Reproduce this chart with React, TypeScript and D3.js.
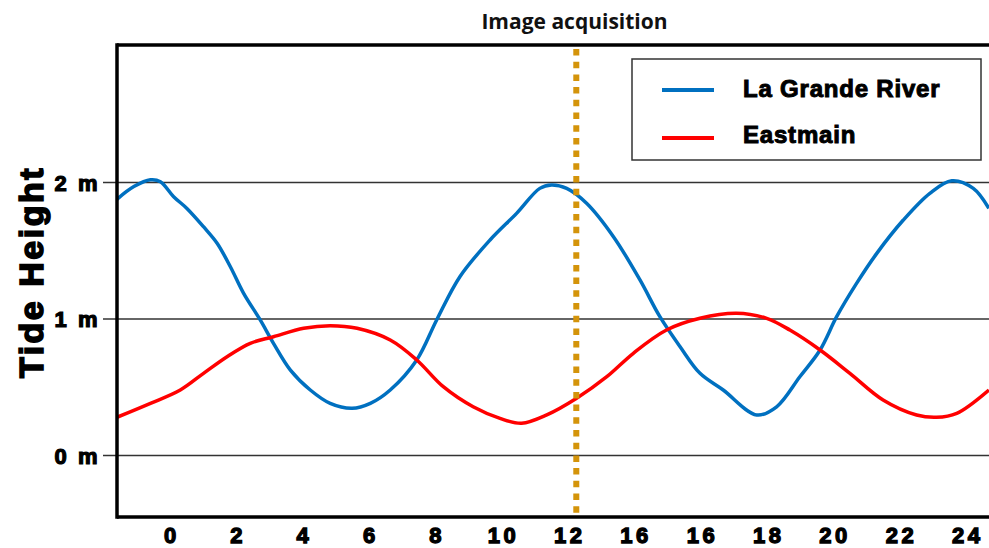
import React from "react";
import * as d3 from "d3";

const xTickLabels = ["0", "2", "4", "6", "8", "10", "12", "16", "16", "18", "20", "22", "24"];
const xTickHours = [0, 2, 4, 6, 8, 10, 12, 14, 16, 18, 20, 22, 24];
const yTicks = [0, 1, 2];
const yTickLabels = ["0 m", "1 m", "2 m"];

const laGrandeHours = [-1.6, -1.09, -0.59, -0.29, 0.11, 0.51, 1.01, 1.42, 1.82, 2.22, 2.72, 3.12, 3.63, 4.23, 4.83, 5.49, 6.04, 6.64, 7.44, 8.04, 8.74, 9.65, 10.45, 11.15, 11.5, 11.96, 12.56, 13.37, 14.17, 14.77, 15.38, 15.98, 16.68, 17.69, 18.29, 18.99, 19.6, 20.1, 20.7, 21.31, 22.11, 22.91, 23.57, 24.22, 24.69];
const laGrandeValues = [1.877, 1.97, 2.02, 2.006, 1.896, 1.81, 1.676, 1.555, 1.383, 1.188, 0.993, 0.822, 0.626, 0.48, 0.382, 0.346, 0.382, 0.48, 0.7, 0.993, 1.31, 1.579, 1.774, 1.957, 1.982, 1.957, 1.848, 1.603, 1.286, 1.017, 0.797, 0.602, 0.48, 0.297, 0.357, 0.577, 0.773, 1.017, 1.261, 1.481, 1.725, 1.921, 2.013, 1.957, 1.81];

const eastmainHours = [-1.6, -0.59, 0.31, 1.01, 1.72, 2.42, 3.12, 4.03, 4.83, 5.64, 6.64, 7.44, 8.24, 9.14, 9.95, 10.6, 11.36, 12.26, 13.17, 13.97, 14.97, 15.98, 17.08, 17.99, 18.69, 19.6, 20.5, 21.5, 22.51, 23.11, 23.72, 24.69];
const eastmainValues = [0.28, 0.382, 0.48, 0.602, 0.724, 0.822, 0.87, 0.932, 0.951, 0.932, 0.846, 0.7, 0.504, 0.357, 0.272, 0.236, 0.297, 0.419, 0.577, 0.749, 0.919, 1.005, 1.042, 1.005, 0.919, 0.773, 0.602, 0.407, 0.297, 0.28, 0.309, 0.48];

const acquisitionHour = 12.25;
const seriesNames = ["La Grande River", "Eastmain"];
const seriesColors = ["#0070C0", "#FF0000"];

export default function App() {
  const W = 989, H = 548;
  const left = 117, right = 989, top = 45, bottom = 517;
  const x = d3.scaleLinear().domain([0, 24]).range([170, 966]);
  const y = d3.scaleLinear().domain([0, 2]).range([455.5, 182.5]);

  const line = d3
    .line<[number, number]>()
    .x((d) => x(d[0]))
    .y((d) => y(d[1]))
    .curve(d3.curveCatmullRom.alpha(0.5));

  const blue = laGrandeHours.map((h, i) => [h, laGrandeValues[i]] as [number, number]);
  const red = eastmainHours.map((h, i) => [h, eastmainValues[i]] as [number, number]);

  const boldFont = "'Liberation Sans', Arial, sans-serif";
  const xls = 3.5;

  return (
    <svg width={W} height={H} style={{ position: "absolute", left: 0, top: 0, background: "#fff" }}>
      <defs>
        <clipPath id="plot">
          <rect x={left} y={top} width={right - left} height={bottom - top} />
        </clipPath>
      </defs>
      <rect x={0} y={0} width={W} height={H} fill="#fff" />

      {yTicks.map((t) => (
        <line key={t} x1={103} x2={right} y1={y(t)} y2={y(t)} stroke="#333" strokeWidth={1.5} />
      ))}
      {yTicks.map((t, i) => (
        <text
          key={"yl" + t}
          x={100}
          y={y(t) + 8}
          textAnchor="end"
          fontFamily={boldFont}
          fontWeight={700}
          fontSize={22}
          stroke="#000"
          strokeWidth={1.2}
          letterSpacing={2.5}
        >
          {yTickLabels[i]}
        </text>
      ))}

      <g clipPath="url(#plot)">
        <path d={line(blue) || ""} fill="none" stroke={seriesColors[0]} strokeWidth={3.5} />
        <path d={line(red) || ""} fill="none" stroke={seriesColors[1]} strokeWidth={3.5} />
      </g>

      <line
        x1={x(acquisitionHour)}
        x2={x(acquisitionHour)}
        y1={49}
        y2={bottom}
        stroke="#D4940A"
        strokeWidth={6}
        strokeDasharray="6.5 6.2"
      />

      <line x1={left} x2={right} y1={top} y2={top} stroke="#000" strokeWidth={3.5} />
      <line x1={left} x2={right} y1={bottom} y2={bottom} stroke="#000" strokeWidth={3.5} />
      <line x1={left} x2={left} y1={top - 1.75} y2={bottom + 1.75} stroke="#000" strokeWidth={3.5} />

      {xTickHours.map((h, i) => (
        <text
          key={"xl" + i}
          x={x(h) + xls / 2}
          y={543}
          textAnchor="middle"
          fontFamily={boldFont}
          fontWeight={700}
          fontSize={22}
          stroke="#000"
          strokeWidth={1.3}
          letterSpacing={xls}
        >
          {xTickLabels[i]}
        </text>
      ))}

      <text
        transform={`translate(43, 272) rotate(-90)`}
        textAnchor="middle"
        fontFamily={boldFont}
        fontWeight={700}
        fontSize={34}
        stroke="#000"
        strokeWidth={1.6}
        letterSpacing={2.5}
      >
        Tide Height
      </text>

      <text
        x={574.5}
        y={29}
        textAnchor="middle"
        fontFamily="'Open Sans', sans-serif"
        fontWeight={700}
        fontSize={21}
        fill="#111"
      >
        Image acquisition
      </text>

      <rect x={632} y={59} width={349} height={101} fill="#fff" stroke="#333" strokeWidth={1.5} />
      {seriesNames.map((n, i) => (
        <g key={n}>
          <line x1={662} x2={714} y1={90 + i * 48} y2={90 + i * 48} stroke={seriesColors[i]} strokeWidth={4} />
          <text
            x={743}
            y={97 + i * 46}
            fontFamily={boldFont}
            fontWeight={700}
            fontSize={24}
            stroke="#000"
            strokeWidth={1}
            letterSpacing={0.8}
          >
            {n}
          </text>
        </g>
      ))}
    </svg>
  );
}
